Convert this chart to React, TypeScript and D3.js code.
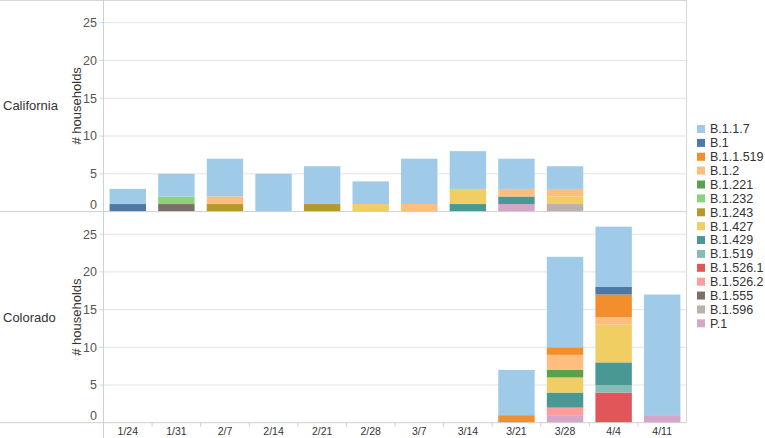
import React from "react";
import * as d3 from "d3";

const weeks = ["1/24", "1/31", "2/7", "2/14", "2/21", "2/28", "3/7", "3/14", "3/21", "3/28", "4/4", "4/11"];
const variants = ["B.1.1.7", "B.1", "B.1.1.519", "B.1.2", "B.1.221", "B.1.232", "B.1.243", "B.1.427", "B.1.429", "B.1.519", "B.1.526.1", "B.1.526.2", "B.1.555", "B.1.596", "P.1"];
const variantColors = ["#a0cbe8", "#4e79a7", "#f28e2b", "#ffbe7d", "#59a14f", "#8cd17d", "#b6992d", "#f1ce63", "#499894", "#86bcb6", "#e15759", "#ff9d9a", "#79706e", "#bab0ac", "#d4a6c8"];
const yTicks = [0, 5, 10, 15, 20, 25];
const states = ["California", "Colorado"];

// rows follow `variants`, columns follow `weeks`
const california = [
  [2, 3, 5, 5, 5, 3, 6, 5, 4, 3, 0, 0],
  [1, 0, 0, 0, 0, 0, 0, 0, 0, 0, 0, 0],
  [0, 0, 0, 0, 0, 0, 0, 0, 0, 0, 0, 0],
  [0, 0, 1, 0, 0, 0, 1, 0, 1, 1, 0, 0],
  [0, 0, 0, 0, 0, 0, 0, 0, 0, 0, 0, 0],
  [0, 1, 0, 0, 0, 0, 0, 0, 0, 0, 0, 0],
  [0, 0, 1, 0, 1, 0, 0, 0, 0, 0, 0, 0],
  [0, 0, 0, 0, 0, 1, 0, 2, 0, 1, 0, 0],
  [0, 0, 0, 0, 0, 0, 0, 1, 1, 0, 0, 0],
  [0, 0, 0, 0, 0, 0, 0, 0, 0, 0, 0, 0],
  [0, 0, 0, 0, 0, 0, 0, 0, 0, 0, 0, 0],
  [0, 0, 0, 0, 0, 0, 0, 0, 0, 0, 0, 0],
  [0, 1, 0, 0, 0, 0, 0, 0, 0, 0, 0, 0],
  [0, 0, 0, 0, 0, 0, 0, 0, 0, 1, 0, 0],
  [0, 0, 0, 0, 0, 0, 0, 0, 1, 0, 0, 0],
];
const colorado = [
  [0, 0, 0, 0, 0, 0, 0, 0, 6, 12, 8, 16],
  [0, 0, 0, 0, 0, 0, 0, 0, 0, 0, 1, 0],
  [0, 0, 0, 0, 0, 0, 0, 0, 1, 1, 3, 0],
  [0, 0, 0, 0, 0, 0, 0, 0, 0, 2, 1, 0],
  [0, 0, 0, 0, 0, 0, 0, 0, 0, 1, 0, 0],
  [0, 0, 0, 0, 0, 0, 0, 0, 0, 0, 0, 0],
  [0, 0, 0, 0, 0, 0, 0, 0, 0, 0, 0, 0],
  [0, 0, 0, 0, 0, 0, 0, 0, 0, 2, 5, 0],
  [0, 0, 0, 0, 0, 0, 0, 0, 0, 2, 3, 0],
  [0, 0, 0, 0, 0, 0, 0, 0, 0, 0, 1, 0],
  [0, 0, 0, 0, 0, 0, 0, 0, 0, 0, 4, 0],
  [0, 0, 0, 0, 0, 0, 0, 0, 0, 1, 0, 0],
  [0, 0, 0, 0, 0, 0, 0, 0, 0, 0, 0, 0],
  [0, 0, 0, 0, 0, 0, 0, 0, 0, 0, 0, 0],
  [0, 0, 0, 0, 0, 0, 0, 0, 0, 1, 0, 1],
];
const stateData = [california, colorado];

const W = 765;
const H = 438;
const plotLeft = 103.5;
const plotRight = 686.5;
const panelTops = [0, 211.6];
const panelBottoms = [211.6, 422.7];
const FONT = "'Liberation Sans', Arial, sans-serif";

export default function App() {
  const x = d3.scaleBand<string>().domain(weeks).range([plotLeft, plotRight]).paddingInner(0.25).paddingOuter(0.125);
  const color = d3.scaleOrdinal<string, string>().domain(variants).range(variantColors);
  const stackKeys = [...variants].reverse();

  return (
    <svg width={W} height={H} style={{ position: "absolute", left: 0, top: 0, background: "#fff" }} fontFamily={FONT}>
      {states.map((state, si) => {
        const y = d3.scaleLinear().domain([0, 28]).range([panelBottoms[si], panelTops[si]]);
        const matrix = stateData[si];
        const rows = weeks.map((w, wi) => {
          const r: Record<string, any> = { week: w };
          variants.forEach((v, vi) => (r[v] = matrix[vi][wi]));
          return r;
        });
        const series = d3.stack<any>().keys(stackKeys)(rows);
        const midY = (panelTops[si] + panelBottoms[si]) / 2;
        return (
          <g key={state}>
            {yTicks.filter((t) => t > 0).map((t) => (
              <line key={t} x1={plotLeft} x2={plotRight} y1={y(t)} y2={y(t)} stroke="#e3e3e3" strokeWidth={1} />
            ))}
            {yTicks.map((t) => (
              <g key={"l" + t}>
                {t > 0 && <line x1={plotLeft - 4} x2={plotLeft} y1={y(t)} y2={y(t)} stroke="#d6d6d6" />}
                <text x={97} y={t === 0 ? y(t) - 7 : y(t)} dy="0.35em" textAnchor="end" fontSize={12.5} fill="#555">
                  {t}
                </text>
              </g>
            ))}
            {series.map((s) => (
              <g key={s.key} fill={color(s.key)}>
                {s.map((d, i) =>
                  d[1] - d[0] > 0 ? (
                    <rect key={i} x={x(weeks[i])} width={x.bandwidth()} y={y(d[1])} height={y(d[0]) - y(d[1])} />
                  ) : null
                )}
              </g>
            ))}
            <text x={3} y={midY} dy="0.35em" fontSize={13} fill="#333">
              {state}
            </text>
            <text transform={`translate(81,${midY}) rotate(-90)`} textAnchor="middle" fontSize={13} fill="#333">
              # households
            </text>
            <line x1={0} x2={plotRight} y1={panelBottoms[si]} y2={panelBottoms[si]} stroke="#cfcfcf" />
          </g>
        );
      })}
      <line x1={0} x2={plotRight} y1={0.5} y2={0.5} stroke="#d6d6d6" />
      <line x1={plotLeft} x2={plotLeft} y1={0} y2={H} stroke="#d0d0d0" />
      <line x1={plotRight} x2={plotRight} y1={0} y2={panelBottoms[1]} stroke="#d6d6d6" />
      {weeks.map((w, i) => {
        const bx = plotLeft + i * x.step();
        return (
          <g key={w}>
            {i > 0 && <line x1={bx} x2={bx} y1={panelBottoms[1]} y2={panelBottoms[1] + 4} stroke="#d0d0d0" />}
            <text x={(x(w) as number) + x.bandwidth() / 2} y={431} dy="0.35em" textAnchor="middle" fontSize={10.5} fill="#333">
              {w}
            </text>
          </g>
        );
      })}
      {variants.map((v, i) => {
        const ly = 129 + i * 13.88;
        return (
          <g key={v}>
            <rect x={697} y={ly - 4} width={8} height={8} fill={color(v)} />
            <text x={710} y={ly} dy="0.35em" fontSize={12.5} fill="#333">
              {v}
            </text>
          </g>
        );
      })}
    </svg>
  );
}
